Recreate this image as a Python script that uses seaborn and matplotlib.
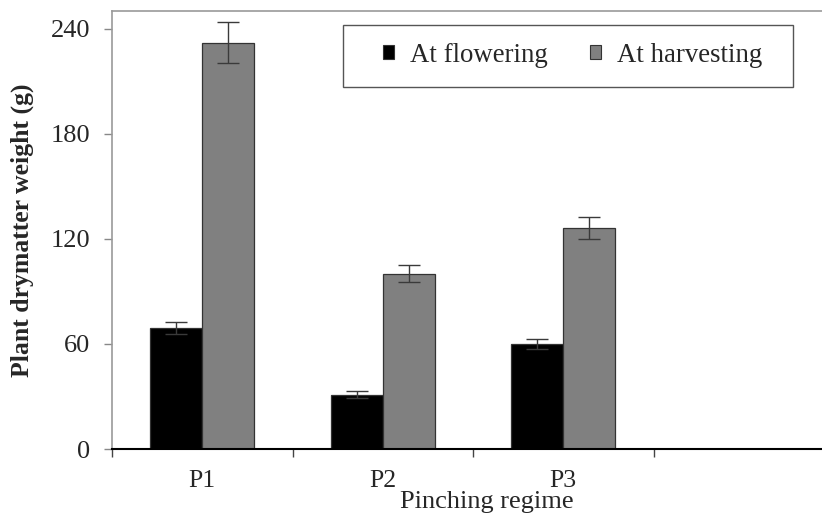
import matplotlib
matplotlib.use("Agg")
import matplotlib.pyplot as plt
from matplotlib.patches import Rectangle
import seaborn as sns
import pandas as pd
import numpy as np

categories = ["P1", "P2", "P3"]
series_names = ["At flowering", "At harvesting"]
flowering = [69, 31, 60]
harvesting = [232, 100, 126]
flowering_err = [3.5, 2.0, 2.7]
harvesting_err = [11.6, 4.9, 6.3]
y_ticks = [0, 60, 120, 180, 240]

sns.set_theme(style="white")
plt.rcParams["font.family"] = ["Liberation Serif", "DejaVu Serif"]

df = pd.DataFrame({
    "regime": categories * 2,
    "series": [series_names[0]] * 3 + [series_names[1]] * 3,
    "value": flowering + harvesting,
})

W, H = 822, 516
AX_L, AX_R, AX_T, AX_B = 112, 834, 11, 449
fig = plt.figure(figsize=(W / 100, H / 100), dpi=100)
ax = fig.add_axes([AX_L / W, (H - AX_B) / H, (AX_R - AX_L) / W, (AX_B - AX_T) / H])
AW, AH = AX_R - AX_L, AX_B - AX_T

sns.barplot(data=df, x="regime", y="value", hue="series", order=categories,
            hue_order=series_names, palette=["#000000", "#808080"],
            width=0.576, errorbar=None, ax=ax, saturation=1,
            edgecolor="#333333", linewidth=0.9)

errs = flowering_err + harvesting_err
vals = flowering + harvesting
for p, v, e in zip(ax.patches[:6], vals, errs):
    xc = p.get_x() + p.get_width() / 2
    ax.errorbar(xc, v, yerr=e, color="#3a3a3a", capsize=8, elinewidth=1,
                capthick=1, fmt="none")

ax.set_ylim(0, 250)
ax.set_xlim(-0.5, 3.5)
ax.set_yticks(y_ticks)
ax.set_yticklabels([str(t) for t in y_ticks], fontsize=19)
ax.tick_params(axis="y", direction="out", length=5.8, width=1, color="#888888",
               pad=10, left=True)

ax.set_xticks([-0.5, 0.5, 1.5, 2.5])
ax.set_xticklabels([])
ax.set_xticks([0, 1, 2], minor=True)
ax.set_xticklabels(categories, minor=True, fontsize=18.5)
ax.tick_params(axis="x", which="major", direction="out", length=5.5, width=1,
               color="#444444", bottom=True)
ax.tick_params(axis="x", which="minor", length=0, pad=15)

for s in ["left", "top"]:
    ax.spines[s].set_color("#999999")
    ax.spines[s].set_linewidth(1.2)
ax.spines["right"].set_visible(False)
ax.spines["bottom"].set_color("#000000")
ax.spines["bottom"].set_linewidth(1.5)

ax.set_ylabel("Plant drymatter weight (g)", fontsize=18.5, fontweight="bold")
ax.yaxis.set_label_coords(-(AX_L - 34) / AW, 0.5)
ax.set_xlabel("Pinching regime", fontsize=19)
ax.xaxis.set_label_coords((487 - AX_L) / AW, -(491 - AX_B) / AH)

leg = ax.legend(loc="center left", bbox_to_anchor=(383 / W, 1 - 55 / H),
                bbox_transform=fig.transFigure,
                ncol=2, fontsize=19.3, frameon=False,
                handlelength=0.42, handleheight=0.42, handletextpad=0.6,
                columnspacing=1.55, borderpad=0, borderaxespad=0)
for h in leg.legend_handles:
    h.set_edgecolor("#333333")
    h.set_linewidth(0.8)

fig.add_artist(Rectangle((343 / W, 1 - 87 / H), 450 / W, 62 / H,
                         transform=fig.transFigure, fill=True, facecolor="none",
                         edgecolor="#555555", linewidth=1))

fig.savefig("out.png", dpi=100)
